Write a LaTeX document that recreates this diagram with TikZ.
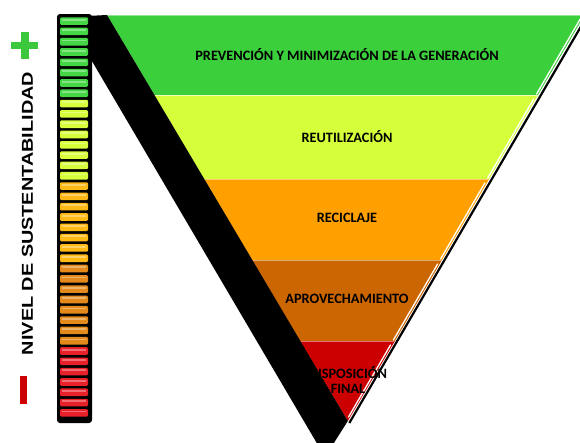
\documentclass[tikz,border=0pt]{standalone}
\usepackage{fontspec}
\usepackage{graphicx}
\setmainfont{Carlito}
\newfontfamily\barfont{Liberation Sans}
\definecolor{bandA}{RGB}{59,207,59}
\definecolor{bandB}{RGB}{212,255,58}
\definecolor{bandC}{RGB}{255,159,0}
\definecolor{bandD}{RGB}{204,102,0}
\definecolor{bandE}{RGB}{204,0,0}
\definecolor{seg0}{RGB}{68,214,68}
\definecolor{seg1}{RGB}{216,255,60}
\definecolor{seg2}{RGB}{255,185,21}
\definecolor{seg3}{RGB}{227,138,26}
\definecolor{seg4}{RGB}{232,32,42}
\definecolor{plusgreen}{RGB}{60,200,60}
\definecolor{minusred}{RGB}{204,0,0}
\begin{document}
\begin{tikzpicture}[x=1pt,y=-1pt,
  lbl/.style={font=\fontsize{14.3}{14.5}\selectfont\bfseries, text=black, inner sep=0pt, align=center},
  bevel/.style={white, line width=1.3pt, line cap=round},
  seam/.style={line width=0.8pt}]
\useasboundingbox (0,0) rectangle (580,442);
\begin{scope}
\clip (0,0) rectangle (580,442);
% right edge dark line (under the bands)
\draw[black, line width=2.2pt] (586.5,17) -- (349.3,423);
% bands
\fill[bandA] (107,15) -- (584.5,15) -- (538,95) -- (154.4,95) -- cycle;
\fill[bandB] (154.4,95) -- (538,95) -- (489.1,179) -- (204.1,179) -- cycle;
\fill[bandC] (204.1,179) -- (489.1,179) -- (442,260) -- (252,260) -- cycle;
\fill[bandD] (252,260) -- (442,260) -- (394.9,341) -- (300,341) -- cycle;
\fill[bandE] (300,341) -- (394.9,341) -- (347.8,421) -- cycle;
% seams
\draw[seam, bandA!55!white] (107,15.4) -- (584,15.4);
\draw[seam, bandB!40!white] (154.4,95.4) -- (537.5,95.4);
\draw[seam, bandC!55!white] (204.1,179.4) -- (488.6,179.4);
\draw[seam, bandD!55!white] (252,260.4) -- (441.5,260.4);
\draw[seam, bandE!55!white] (300,341.4) -- (394.4,341.4);
% right edge bevel
\draw[bevel] (580.2,19) -- (536.6,94);
\draw[bevel] (533.7,99) -- (487.7,178);
\draw[bevel] (484.8,183) -- (440.6,259);
\draw[bevel] (437.6,264) -- (393.4,340);
\draw[bevel] (390.5,345) -- (348.5,417);
% labels
\node[lbl] (l1) at (347,55) {PREVENCIÓN Y MINIMIZACIÓN DE LA GENERACIÓN};
\node[lbl] (l2) at (347,137) {REUTILIZACIÓN};
\node[lbl] (l3) at (347,218) {RECICLAJE};
\node[lbl] (l4) at (347,299) {APROVECHAMIENTO};
\node[lbl] (l5) at (348,380) {DISPOSICIÓN\\FINAL};
% shadow
\fill[black] (66,17) -- (107,15) -- (347.8,421) -- (325,457) -- cycle;
\end{scope}
% level bar
\fill[black, rounded corners=3pt] (57,14) rectangle (92,423);
\foreach \i in {0,...,38} {
  \pgfmathtruncatemacro\g{\i/8}
  \pgfmathsetmacro\ya{17.3+\i*10.31}
  \pgfmathsetmacro\yb{\ya+7.6}
  \fill[seg\g, rounded corners=1.2pt] (60,\ya) rectangle (88,\yb);
  \fill[white, opacity=0.35] (62,\ya+1.6) rectangle (86,\ya+3.4);
}
% plus and minus
\fill[plusgreen] (11,41.5) rectangle (38,49);
\fill[plusgreen] (21,32) rectangle (28.5,59);
\fill[minusred] (20,376) rectangle (27,404);
% vertical text
\node[rotate=90, inner sep=0pt] (vt) at (27.5,213.5) {\resizebox{283pt}{11pt}{\barfont\bfseries NIVEL DE SUSTENTABILIDAD}};
\end{tikzpicture}
\end{document}
